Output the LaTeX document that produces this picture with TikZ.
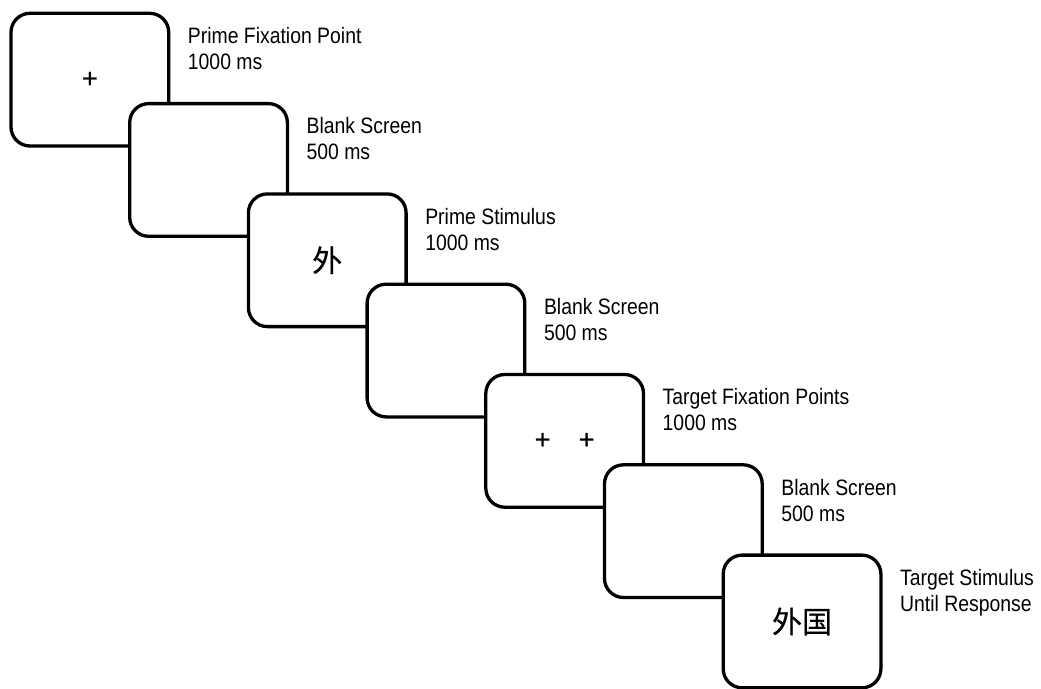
\documentclass[tikz,border=0pt]{standalone}
\usepackage{fontspec}
\setmainfont[FakeStretch=0.87]{Liberation Sans}
\newfontfamily\plusfont[FakeBold=0.8]{Liberation Sans}
\newfontfamily\cjk[FakeBold=0.5]{Noto Sans CJK SC}
\begin{document}
\begin{tikzpicture}[x=1pt,y=-1pt,
  screen/.style={draw, line width=3.3pt, rounded corners=19pt, fill=white,
    minimum width=157.7pt, minimum height=132.7pt, inner sep=0pt, outer sep=0pt},
  lab/.style={anchor=north west, align=left, inner sep=0pt,
    font=\fontsize{22.3}{26}\selectfont},
  plus/.style={font=\plusfont\fontsize{27}{27}\selectfont},
  hanzi/.style={font=\cjk\fontsize{30}{30}\selectfont}]
\useasboundingbox (0,0) rectangle (1041,688);
\fill[white] (0,0) rectangle (1041,688);
% screens
\node[screen, plus]  (b0) at (89.85,79.65) {+};
\node[screen]        (b1) at (208.55,169.95) {};
\node[screen, hanzi] (b2) at (327.25,260.25) {\raisebox{-1pt}{外}};
\node[screen]        (b3) at (445.95,350.55) {};
\node[screen, plus]  (b4) at (564.65,440.85) {+\hspace{28.2pt}+};
\node[screen]        (b5) at (683.35,531.15) {};
\node[screen, hanzi] (b6) at (802.05,621.45) {外国};
% labels
\node[lab] (l0) at ([xshift=19pt,yshift=-14pt]b0.north east) {Prime Fixation Point\\1000 ms};
\node[lab] (l1) at ([xshift=19pt,yshift=-14pt]b1.north east) {Blank Screen\\500 ms};
\node[lab] (l2) at ([xshift=19pt,yshift=-14pt]b2.north east) {Prime Stimulus\\1000 ms};
\node[lab] (l3) at ([xshift=19pt,yshift=-14pt]b3.north east) {Blank Screen\\500 ms};
\node[lab] (l4) at ([xshift=19pt,yshift=-14pt]b4.north east) {Target Fixation Points\\1000 ms};
\node[lab] (l5) at ([xshift=19pt,yshift=-14pt]b5.north east) {Blank Screen\\500 ms};
\node[lab] (l6) at ([xshift=19pt,yshift=-14pt]b6.north east) {Target Stimulus\\Until Response};
\end{tikzpicture}
\end{document}
